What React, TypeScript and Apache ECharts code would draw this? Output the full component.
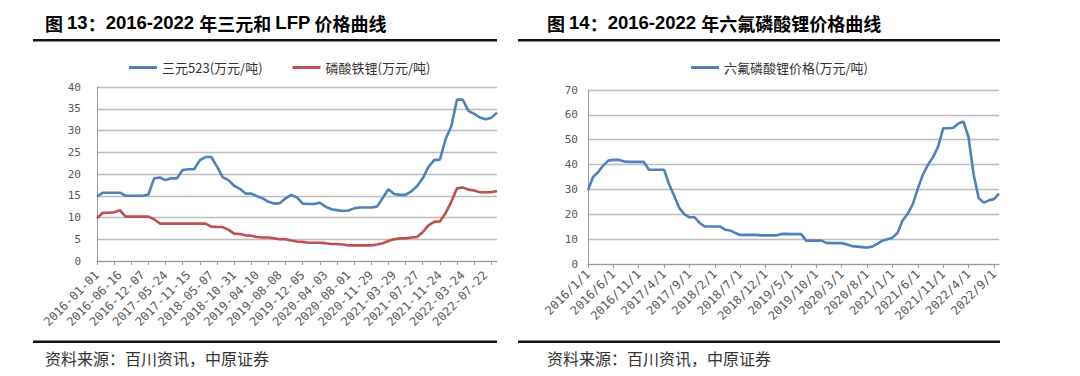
import React, { useEffect, useRef } from "react";
import * as echarts from "echarts";

// ---------- Left chart (图13) ----------
const leftTickLabels = [
  "2016-01-01", "2016-06-16", "2016-12-07", "2017-05-24", "2017-11-15", "2018-05-07",
  "2018-10-31", "2019-04-10", "2019-08-08", "2019-12-05", "2020-04-03", "2020-08-01",
  "2020-11-29", "2021-03-29", "2021-07-27", "2021-11-24", "2022-03-24", "2022-07-22",
];
const ternaryName = "三元523(万元/吨)";
const lfpName = "磷酸铁锂(万元/吨)";
const ternary523 = [
  14.8, 15.7, 15.7, 15.7, 15.7, 15.0, 15.0, 15.0, 15.0, 15.3,
  19.0, 19.2, 18.6, 19.0, 19.0, 20.9, 21.1, 21.1, 23.2, 23.9,
  23.9, 21.7, 19.3, 18.6, 17.3, 16.6, 15.5, 15.5, 14.9, 14.4,
  13.6, 13.2, 13.3, 14.4, 15.2, 14.6, 13.2, 13.1, 13.1, 13.4,
  12.5, 11.9, 11.7, 11.5, 11.6, 12.1, 12.3, 12.3, 12.3, 12.5,
  14.5, 16.5, 15.4, 15.2, 15.2, 16.0, 17.2, 19.0, 21.6, 23.2,
  23.3, 28.0, 31.0, 37.1, 37.1, 34.5, 33.8, 33.0, 32.6, 32.9,
  34.1,
];
const lfp = [
  9.8, 11.1, 11.1, 11.2, 11.7, 10.2, 10.2, 10.2, 10.2, 10.2,
  9.6, 8.6, 8.6, 8.6, 8.6, 8.6, 8.6, 8.6, 8.6, 8.6,
  7.9, 7.8, 7.8, 7.2, 6.3, 6.2, 5.9, 5.8, 5.5, 5.4,
  5.4, 5.2, 5.0, 5.0, 4.7, 4.5, 4.4, 4.2, 4.2, 4.2,
  4.1, 3.9, 3.9, 3.8, 3.6, 3.6, 3.6, 3.6, 3.6, 3.8,
  4.1, 4.6, 5.0, 5.2, 5.2, 5.4, 5.5, 6.6, 8.2, 9.0,
  9.1, 11.0, 13.6, 16.7, 16.9, 16.4, 16.2, 15.8, 15.8, 15.8,
  16.1,
];

// ---------- Right chart (图14) ----------
const rightTickLabels = [
  "2016/1/1", "2016/6/1", "2016/11/1", "2017/4/1", "2017/9/1", "2018/2/1",
  "2018/7/1", "2018/12/1", "2019/5/1", "2019/10/1", "2020/3/1", "2020/8/1",
  "2021/1/1", "2021/6/1", "2021/11/1", "2022/4/1", "2022/9/1",
];
const lipf6Name = "六氟磷酸锂价格(万元/吨)";
const lipf6 = [
  29.8, 35.0, 37.0, 39.6, 41.6, 41.9, 41.9, 41.3, 41.1, 41.1,
  41.1, 41.1, 37.9, 37.9, 37.9, 37.9, 32.0, 27.4, 22.5, 20.0,
  18.8, 18.8, 16.5, 15.1, 15.1, 15.1, 15.1, 13.8, 13.5, 12.5,
  11.7, 11.7, 11.7, 11.7, 11.5, 11.5, 11.5, 11.5, 12.0, 12.1,
  12.0, 12.0, 12.0, 9.4, 9.4, 9.4, 9.4, 8.5, 8.4, 8.4,
  8.4, 7.9, 7.2, 7.0, 6.8, 6.6, 7.0, 8.1, 9.4, 10.0,
  10.6, 12.5, 17.5, 20.2, 24.0, 30.3, 36.0, 39.9, 43.0, 47.2,
  54.6, 54.6, 54.8, 56.5, 57.3, 51.0, 36.0, 26.5, 24.7, 25.6,
  26.1, 28.3,
];

const leftLabelStep = 4;
const leftTickStep = 3;
const rightLabelStep = 5;

function buildCategories(labels: string[], step: number, count: number): string[] {
  const out: string[] = [];
  for (let i = 0; i < count; i++) {
    const k = Math.floor(i / step);
    out.push(i % step === 0 ? labels[k] : `${labels[Math.min(k, labels.length - 1)]}+${i % step}`);
  }
  return out;
}

const BLUE = "#4F81BD";
const RED = "#C0504D";
const AXIS_FONT = "'DejaVu Sans Mono', monospace";
const CJK = "'Noto Sans CJK SC', sans-serif";
const LATIN = "'Liberation Sans', Arial, sans-serif";

function titleText(prefix: string, num: string, rest: string) {
  return `{c|${prefix} }{l|${num}}{c|：}{l|2016-2022 }${rest}`;
}

export default function App() {
  const ref = useRef<HTMLDivElement>(null);
  useEffect(() => {
    if (!ref.current) return;
    const chart = echarts.init(ref.current, undefined, { renderer: "svg" });
    const leftCats = buildCategories(leftTickLabels, leftLabelStep, ternary523.length);
    const rightCats = buildCategories(rightTickLabels, rightLabelStep, lipf6.length);

    const axisLabelCommon = {
      color: "#595959",
      fontFamily: AXIS_FONT,
      fontSize: 11,
    };
    const xLabelCommon = { ...axisLabelCommon, fontSize: 12 };
    const titleRich = {
      c: { fontFamily: CJK, fontSize: 18, fontWeight: "bold", color: "#111" },
      l: { fontFamily: LATIN, fontSize: 18.5, fontWeight: "bold", color: "#111" },
    };

    const option: any = {
      animation: false,
      grid: [
        { left: 97, top: 87, width: 400, height: 174 },
        { left: 588, top: 90, width: 411, height: 174 },
      ],
      legend: [
        {
          data: [ternaryName, lfpName],
          left: 124,
          top: 56,
          icon: "rect",
          itemWidth: 28,
          itemHeight: 3,
          itemGap: 30,
          textStyle: { fontFamily: CJK, fontSize: 13, color: "#333" },
        },
        {
          data: [lipf6Name],
          left: 686,
          top: 56,
          icon: "rect",
          itemWidth: 28,
          itemHeight: 3,
          textStyle: { fontFamily: CJK, fontSize: 13, color: "#333" },
        },
      ],
      xAxis: [
        {
          type: "category",
          gridIndex: 0,
          data: leftCats,
          boundaryGap: false,
          axisLine: { lineStyle: { color: "#9a9a9a", width: 1 } },
          axisTick: {
            show: true,
            length: 4,
            interval: (i: number) => i % leftTickStep === 0,
            lineStyle: { color: "#9a9a9a" },
          },
          axisLabel: {
            ...xLabelCommon,
            rotate: 45,
            margin: 12,
            interval: (i: number) => i % leftLabelStep === 0,
            formatter: (v: string) => (v.includes("+") ? "" : v),
          },
          splitLine: { show: false },
        },
        {
          type: "category",
          gridIndex: 1,
          data: rightCats,
          boundaryGap: false,
          axisLine: { lineStyle: { color: "#9a9a9a", width: 1 } },
          axisTick: {
            show: true,
            length: 4,
            interval: (i: number) => i % rightLabelStep === 0,
            lineStyle: { color: "#9a9a9a" },
          },
          axisLabel: {
            ...xLabelCommon,
            rotate: 45,
            margin: 8,
            interval: (i: number) => i % rightLabelStep === 0,
            formatter: (v: string) => (v.includes("+") ? "" : v),
          },
          splitLine: { show: false },
        },
      ],
      yAxis: [
        {
          type: "value",
          gridIndex: 0,
          min: 0,
          max: 40,
          interval: 5,
          axisLine: { show: true, lineStyle: { color: "#9a9a9a" } },
          axisTick: { show: false },
          axisLabel: { ...axisLabelCommon, margin: 16 },
          splitLine: { lineStyle: { color: "#bdbdbd", width: 1.3 } },
        },
        {
          type: "value",
          gridIndex: 1,
          min: 0,
          max: 70,
          interval: 10,
          axisLine: { show: true, lineStyle: { color: "#9a9a9a" } },
          axisTick: { show: false },
          axisLabel: { ...axisLabelCommon, margin: 10 },
          splitLine: { lineStyle: { color: "#bdbdbd", width: 1.3 } },
        },
      ],
      series: [
        {
          name: ternaryName,
          type: "line",
          xAxisIndex: 0,
          yAxisIndex: 0,
          data: ternary523,
          symbol: "none",
          lineStyle: { color: BLUE, width: 2.6 },
          itemStyle: { color: BLUE },
        },
        {
          name: lfpName,
          type: "line",
          xAxisIndex: 0,
          yAxisIndex: 0,
          data: lfp,
          symbol: "none",
          lineStyle: { color: RED, width: 2.6 },
          itemStyle: { color: RED },
        },
        {
          name: lipf6Name,
          type: "line",
          xAxisIndex: 1,
          yAxisIndex: 1,
          data: lipf6,
          symbol: "none",
          lineStyle: { color: BLUE, width: 2.6 },
          itemStyle: { color: BLUE },
        },
      ],
      graphic: [
        {
          type: "text",
          left: 45,
          top: 13,
          style: {
            text: titleText("图", "13", "{c|年三元和 }{l|LFP}{c| 价格曲线}"),
            rich: titleRich,
          },
        },
        {
          type: "text",
          left: 547,
          top: 13,
          style: {
            text: titleText("图", "14", "{c|年六氟磷酸锂价格曲线}"),
            rich: titleRich,
          },
        },
        { type: "rect", shape: { x: 33, y: 39, width: 464, height: 2.5 }, style: { fill: "#111" } },
        { type: "rect", shape: { x: 518, y: 39, width: 482, height: 2.5 }, style: { fill: "#111" } },
        { type: "rect", shape: { x: 33, y: 340.5, width: 464, height: 2.5 }, style: { fill: "#111" } },
        { type: "rect", shape: { x: 518, y: 340.5, width: 482, height: 2.5 }, style: { fill: "#111" } },
        {
          type: "text",
          left: 45,
          top: 350,
          style: { text: "资料来源：百川资讯，中原证券", fontFamily: CJK, fontSize: 16, fill: "#333" },
        },
        {
          type: "text",
          left: 547,
          top: 350,
          style: { text: "资料来源：百川资讯，中原证券", fontFamily: CJK, fontSize: 16, fill: "#333" },
        },
      ],
    };
    chart.setOption(option);
    return () => chart.dispose();
  }, []);
  return (
    <div
      ref={ref}
      style={{ position: "fixed", left: 0, top: 0, width: 1080, height: 376, background: "#fff" }}
    />
  );
}
